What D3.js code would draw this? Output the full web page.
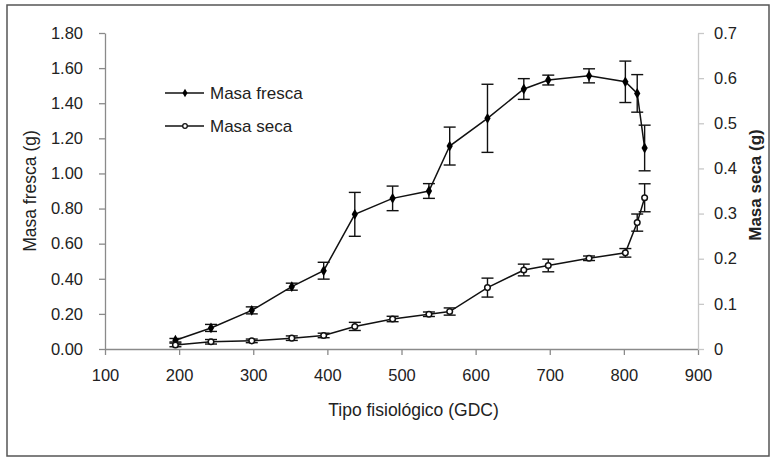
<!DOCTYPE html>
<html><head><meta charset="utf-8">
<script src="https://cdn.jsdelivr.net/npm/d3@7"></script>
<style>
body{margin:0;background:#fff;}
svg{display:block;font-family:"Liberation Sans",Arial,sans-serif;}
</style></head>
<body><svg id="c" width="775" height="457"></svg>
<script>
const gdc = [195, 243, 298, 352, 395, 437, 488, 537, 565, 616, 665, 698, 753, 802, 818, 828];
const masaFresca = [0.05, 0.12, 0.22, 0.355, 0.446, 0.767, 0.858, 0.90, 1.156, 1.314, 1.481, 1.532, 1.556, 1.522, 1.456, 1.145];
const errFresca = [0.01, 0.02, 0.02, 0.02, 0.048, 0.125, 0.07, 0.042, 0.108, 0.194, 0.059, 0.028, 0.04, 0.118, 0.107, 0.13];
const masaSeca = [0.009, 0.016, 0.018, 0.024, 0.030, 0.050, 0.0665, 0.077, 0.083, 0.136, 0.175, 0.185, 0.201, 0.213, 0.280, 0.335];
const errSeca = [0.004, 0.005, 0.004, 0.005, 0.005, 0.009, 0.006, 0.005, 0.008, 0.021, 0.013, 0.014, 0.005, 0.0095, 0.019, 0.031];
const xTicks = [100, 200, 300, 400, 500, 600, 700, 800, 900];
const yLeftTicks = [0, 0.2, 0.4, 0.6, 0.8, 1.0, 1.2, 1.4, 1.6, 1.8];
const yRightTicks = [0, 0.1, 0.2, 0.3, 0.4, 0.5, 0.6, 0.7];

const svg = d3.select("#c");
svg.append("rect").attr("x",7).attr("y",5).attr("width",762).attr("height",451)
  .attr("fill","none").attr("stroke","#555").attr("stroke-width",1.5);

const x = d3.scaleLinear().domain([100,900]).range([105,698]);
const yL = d3.scaleLinear().domain([0,1.8]).range([349,33]);
const yR = d3.scaleLinear().domain([0,0.7]).range([349,33]);

function styleAxis(g, col){
  g.select(".domain").attr("stroke",col).attr("stroke-width",1.3);
  g.selectAll(".tick line").attr("stroke",col).attr("stroke-width",1.3);
  g.selectAll(".tick text").attr("fill","#222").style("font-size","16.5px").style("font-family",'"Liberation Sans",Arial,sans-serif');
}
const gx = svg.append("g").attr("transform","translate(0,349)")
  .call(d3.axisBottom(x).tickValues(xTicks).tickSize(6).tickSizeOuter(0).tickPadding(14).tickFormat(d3.format("d")));
styleAxis(gx,"#8a8a8a");
const gl = svg.append("g").attr("transform","translate(105,0)")
  .call(d3.axisLeft(yL).tickValues(yLeftTicks).tickSize(6).tickSizeOuter(0).tickPadding(16).tickFormat(d3.format(".2f")));
styleAxis(gl,"#8a8a8a");
const gr = svg.append("g").attr("transform","translate(698,0)")
  .call(d3.axisRight(yR).tickValues(yRightTicks).tickSize(6).tickSizeOuter(0).tickPadding(10).tickFormat(d=>d===0?"0":d3.format(".1f")(d)));
styleAxis(gr,"#c8c8c8");

// titles
svg.append("text").attr("x",(x(100)+x(900))/2+12).attr("y",416).attr("text-anchor","middle")
  .style("font-size","17.5px").attr("fill","#222").text("Tipo fisiológico (GDC)");
svg.append("text").attr("transform","translate(36,191) rotate(-90)").attr("text-anchor","middle")
  .style("font-size","17.5px").attr("fill","#222").text("Masa fresca (g)");
svg.append("text").attr("transform","translate(761,185) rotate(-90)").attr("text-anchor","middle")
  .style("font-size","17px").style("font-weight","bold").attr("fill","#222").text("Masa seca (g)");

function series(vals, errs, y, filled){
  const g = svg.append("g");
  const pts = gdc.map((d,i)=>({x:d, v:vals[i], e:errs[i]}));
  g.append("path").datum(pts).attr("fill","none").attr("stroke","#111").attr("stroke-width",1.5)
    .attr("d", d3.line().x(d=>x(d.x)).y(d=>y(d.v)));
  const eb = g.selectAll(".eb").data(pts).enter().append("g");
  eb.append("line").attr("x1",d=>x(d.x)).attr("x2",d=>x(d.x)).attr("y1",d=>y(d.v+d.e)).attr("y2",d=>y(d.v-d.e))
    .attr("stroke","#111").attr("stroke-width",1.4);
  eb.append("line").attr("x1",d=>x(d.x)-6).attr("x2",d=>x(d.x)+6).attr("y1",d=>y(d.v+d.e)).attr("y2",d=>y(d.v+d.e))
    .attr("stroke","#111").attr("stroke-width",1.4);
  eb.append("line").attr("x1",d=>x(d.x)-6).attr("x2",d=>x(d.x)+6).attr("y1",d=>y(d.v-d.e)).attr("y2",d=>y(d.v-d.e))
    .attr("stroke","#111").attr("stroke-width",1.4);
  if(filled){
    g.selectAll(".m").data(pts).enter().append("path")
      .attr("transform",d=>`translate(${x(d.x)},${y(d.v)})`)
      .attr("d", d3.symbol().type(d3.symbolDiamond).size(34)).attr("fill","#000");
  } else {
    g.selectAll(".m").data(pts).enter().append("circle")
      .attr("cx",d=>x(d.x)).attr("cy",d=>y(d.v)).attr("r",2.8)
      .attr("fill","#fff").attr("stroke","#111").attr("stroke-width",1.5);
  }
}
series(masaFresca, errFresca, yL, true);
series(masaSeca, errSeca, yR, false);

// legend
const lg = svg.append("g");
[["Masa fresca",93,true],["Masa seca",126,false]].forEach(([t,yy,f])=>{
  lg.append("line").attr("x1",165).attr("x2",204).attr("y1",yy).attr("y2",yy).attr("stroke","#111").attr("stroke-width",1.4);
  if(f) lg.append("path").attr("transform",`translate(185,${yy})`).attr("d",d3.symbol().type(d3.symbolDiamond).size(22)).attr("fill","#000");
  else lg.append("circle").attr("cx",185).attr("cy",yy).attr("r",2.3).attr("fill","#fff").attr("stroke","#111").attr("stroke-width",1.3);
  lg.append("text").attr("x",210).attr("y",yy).attr("dy","0.35em").style("font-size","17px").attr("fill","#222").text(t);
});
</script></body></html>
